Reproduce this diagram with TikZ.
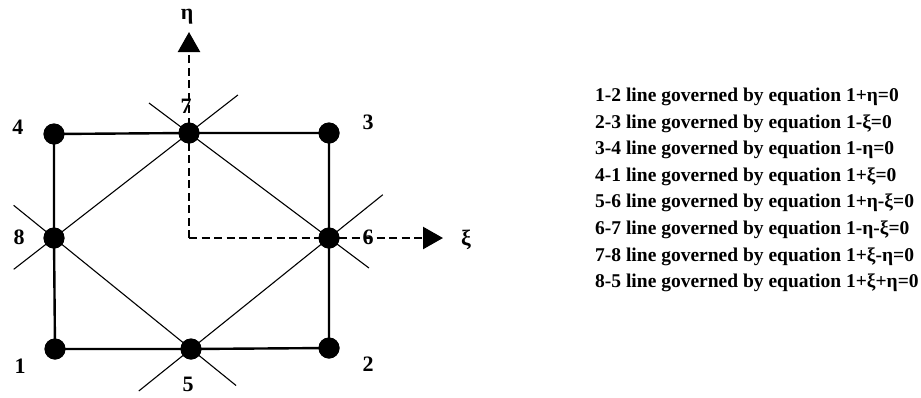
\documentclass[tikz,border=0pt]{standalone}
\usepackage{fontspec}
\setmainfont{Liberation Serif}
\usetikzlibrary{arrows.meta}
\begin{document}
\begin{tikzpicture}[x=1pt,y=-1pt,
  dot/.style={circle,fill=black,inner sep=0pt,minimum size=21pt},
  edge/.style={line width=2.4pt},
  diag/.style={line width=1.1pt},
  axis/.style={line width=2.4pt,dash pattern=on 8pt off 4.5pt,-{Triangle[length=20pt,width=22pt]}},
  lbl/.style={font=\bfseries\fontsize{22}{22}\selectfont,inner sep=0pt},
  eqn/.style={font=\bfseries\fontsize{19.5}{19.5}\selectfont,inner sep=0pt,anchor=west}]
\useasboundingbox (0,0) rectangle (921,397);
% nodes
\node[dot] (n4) at (54,134) {};
\node[dot] (n7) at (189,133) {};
\node[dot] (n3) at (329,133) {};
\node[dot] (n8) at (54,238) {};
\node[dot] (n6) at (329,238) {};
\node[dot] (n1) at (55,349) {};
\node[dot] (n5) at (191,349) {};
\node[dot] (n2) at (329,348) {};
\coordinate (o) at (189,238);
\coordinate (etatip) at (189,32);
\coordinate (xitip) at (443,238);
% diagonals
\draw[diag,shorten <=-51pt,shorten >=-62pt] (n8.center) -- (n7.center);
\draw[diag,shorten <=-50pt,shorten >=-50pt] (n7.center) -- (n6.center);
\draw[diag,shorten <=-69pt,shorten >=-67pt] (n6.center) -- (n5.center);
\draw[diag,shorten <=-58pt,shorten >=-52pt] (n5.center) -- (n8.center);
% edges
\draw[edge] (n1.center) -- (n5.center) -- (n2.center) -- (n6.center) -- (n3.center) -- (n7.center) -- (n4.center) -- (n8.center) -- (n1.center);
% labels
\node[lbl] (l4) at (18,127) {4};
\node[lbl] (l3) at (368,122) {3};
\node[lbl] (l7) at (186,106) {7};
\node[lbl] (l8) at (19,237) {8};
\node[lbl] (l6) at (368,237) {6};
\node[lbl] (l1) at (20,366) {1};
\node[lbl] (l5) at (188,384) {5};
\node[lbl] (l2) at (368,364) {2};
% axes
\draw[axis] (o) -- (etatip);
\draw[axis] (o) -- (xitip);
\node[lbl] (eta) at (187,17) {η};
\node[lbl] (xi) at (466,240) {ξ};
% dots on top
\foreach \n in {n4,n7,n3,n8,n6,n1,n5,n2} \fill (\n) circle (10.5pt);
% equations
\node[eqn] (e1) at (595,97) {1-2 line governed by equation 1+η=0};
\node[eqn] (e2) at (595,123.6) {2-3 line governed by equation 1-ξ=0};
\node[eqn] (e3) at (595,150.1) {3-4 line governed by equation 1-η=0};
\node[eqn] (e4) at (595,176.7) {4-1 line governed by equation 1+ξ=0};
\node[eqn] (e5) at (595,203.3) {5-6 line governed by equation 1+η-ξ=0};
\node[eqn] (e6) at (595,229.9) {6-7 line governed by equation 1-η-ξ=0};
\node[eqn] (e7) at (595,256.4) {7-8 line governed by equation 1+ξ-η=0};
\node[eqn] (e8) at (595,283) {8-5 line governed by equation 1+ξ+η=0};
\end{tikzpicture}
\end{document}
